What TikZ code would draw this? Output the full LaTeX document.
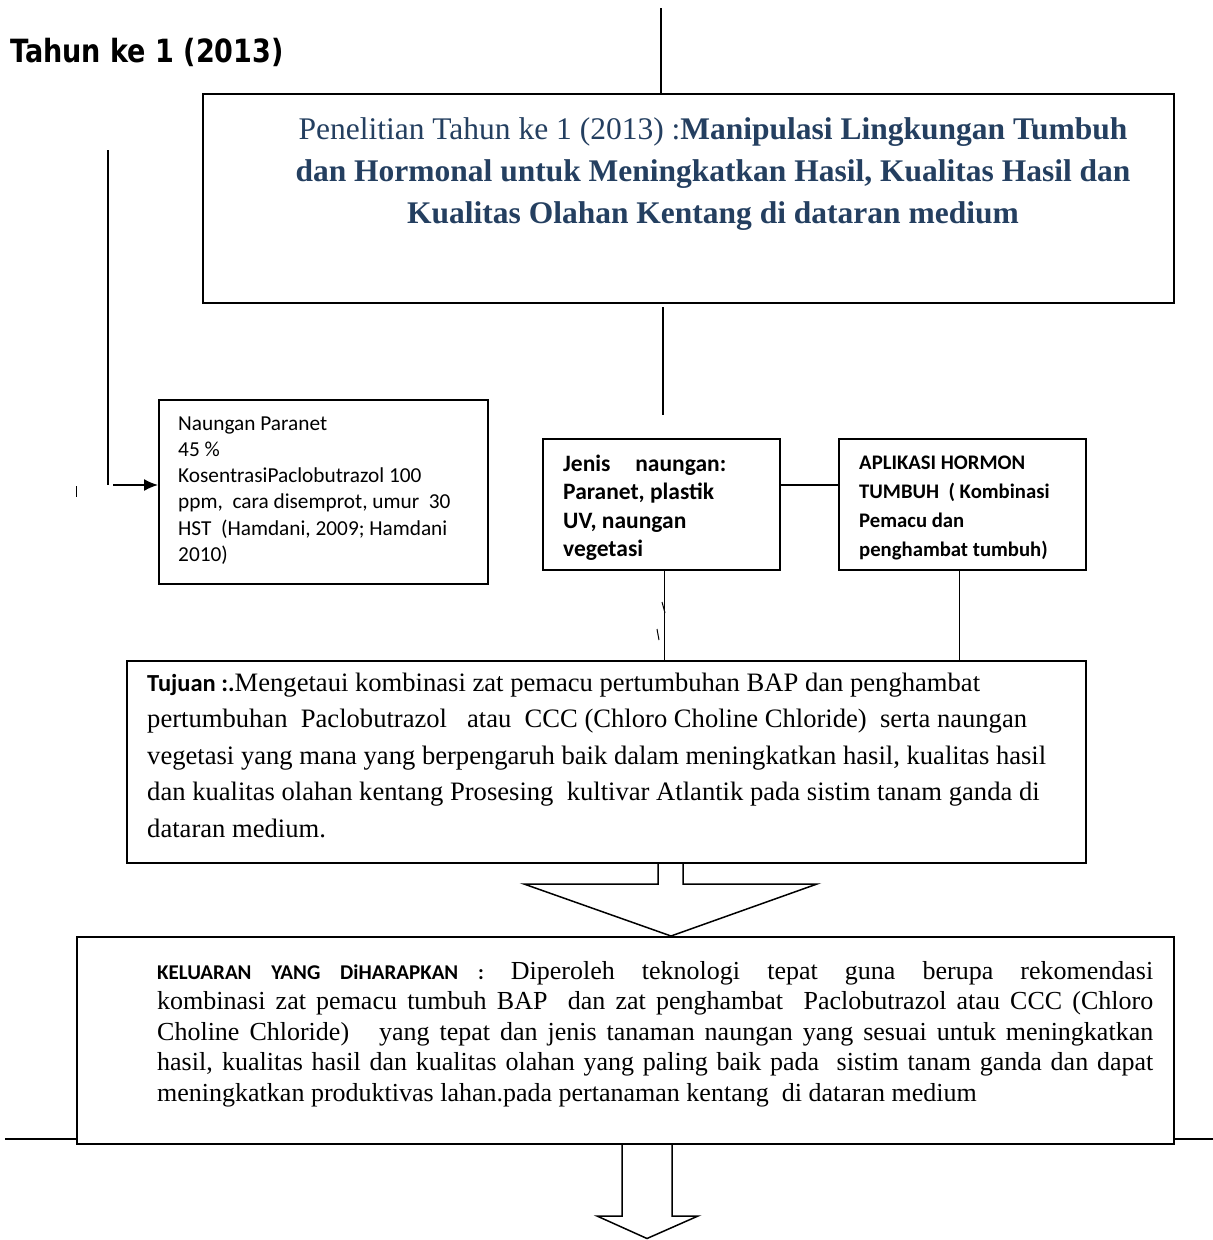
\documentclass[tikz,border=0pt]{standalone}
\usepackage{fontspec}
\usetikzlibrary{arrows.meta}
\setmainfont{Liberation Serif}
\newfontfamily\calfont{Carlito}
\newfontfamily\verdfont{DejaVu Sans}
\definecolor{titleblue}{HTML}{243F60}
\begin{document}
\begin{tikzpicture}[x=1pt,y=-1pt,
  box/.style={draw, line width=1.5pt, inner sep=0, anchor=north west},
  ln/.style={line width=1.5pt},
  thin/.style={line width=1pt},
  txt/.style={inner sep=0, anchor=north west, align=left}]
\useasboundingbox (0,0) rectangle (1213,1240);

% heading
\node[anchor=base west, inner sep=0, font=\verdfont\bfseries\fontsize{32}{36}\selectfont] (head) at (10,62) {\scalebox{0.845}[1]{Tahun ke 1 (2013)}};

% boxes
\node[box, minimum width=971, minimum height=209] (title) at (202,93) {};
\node[box, minimum width=329, minimum height=184] (naungan) at (158,399) {};
\node[box, minimum width=237, minimum height=131] (jenis) at (542,438) {};
\node[box, minimum width=247, minimum height=131] (aplikasi) at (838,438) {};
\node[box, minimum width=959, minimum height=202] (tujuan) at (126,660) {};
\node[box, minimum width=1097, minimum height=207] (keluaran) at (76,936) {};

% title text
\node[inner sep=0, anchor=north, align=center, text=titleblue,
      font=\fontsize{31.5}{42}\selectfont] (titletext) at (713,109.6)
 {\strut Penelitian Tahun ke 1 (2013) :\textbf{Manipulasi Lingkungan Tumbuh}\\
  \textbf{dan Hormonal untuk Meningkatkan Hasil, Kualitas Hasil dan}\\
  \textbf{Kualitas Olahan Kentang di dataran medium}};

% naungan text
\node[txt, font=\calfont\fontsize{21.3}{26.2}\selectfont] (naungantext) at (178,411.7)
 {\strut Naungan Paranet\\
  45~\%\\
  KosentrasiPaclobutrazol 100\\
  ppm,~ cara disemprot, umur~ 30\\
  HST~ (Hamdani, 2009; Hamdani\\
  2010)};

% jenis text (clipped)
\begin{scope}
\clip (544,440) rectangle (777,562);
\node[txt, font=\calfont\bfseries\fontsize{23.5}{28.5}\selectfont] (jenistext) at (563,451)
 {\strut\makebox[163pt][s]{Jenis naungan:}\\
  Paranet, plastik\\
  UV, naungan\\
  vegetasi};
\end{scope}

% aplikasi text (clipped)
\begin{scope}
\clip (840,440) rectangle (1083,562);
\node[txt, font=\calfont\bfseries\fontsize{20.7}{29}\selectfont] (aplikasitext) at (859,448.7)
 {\strut APLIKASI HORMON\\
  TUMBUH~ ( Kombinasi\\
  Pemacu dan\\
  penghambat tumbuh)};
\end{scope}

% tujuan text
\node[txt, font=\fontsize{26.6}{36.5}\selectfont] (tujuantext) at (147,665.4)
 {\strut{\calfont\bfseries\fontsize{24.5}{36.5}\selectfont Tujuan :.}Mengetaui kombinasi zat pemacu pertumbuhan BAP dan penghambat\\
  pertumbuhan~ Paclobutrazol~~ atau~ CCC (Chloro Choline Chloride)~ serta naungan\\
  vegetasi yang mana yang berpengaruh baik dalam meningkatkan hasil, kualitas hasil\\
  dan kualitas olahan kentang Prosesing~ kultivar Atlantik pada sistim tanam ganda di\\
  dataran medium.};

% keluaran text
\node[txt, font=\fontsize{26}{30.5}\selectfont] (keluarantext) at (157,957.65)
 {\strut\makebox[996pt][s]{{\calfont\bfseries\fontsize{21}{30.5}\selectfont KELUARAN YANG DiHARAPKAN :} Diperoleh teknologi tepat guna berupa rekomendasi}\\
  \makebox[996pt][s]{kombinasi zat pemacu tumbuh BAP~ dan zat penghambat~ Paclobutrazol atau CCC (Chloro}\\
  \makebox[996pt][s]{Choline Chloride)~~ yang tepat dan jenis tanaman naungan yang sesuai untuk meningkatkan}\\
  \makebox[996pt][s]{hasil, kualitas hasil dan kualitas olahan yang paling baik pada~ sistim tanam ganda dan dapat}\\
  meningkatkan produktivas lahan.pada pertanaman kentang~ di dataran medium};

% connectors
\coordinate (topend) at (661,8);
\draw[ln] (topend) -- (topend |- title.north);

\coordinate (midtop) at (663,307);
\coordinate (midbot) at (663,415);
\draw[ln] (midtop) -- (midbot);

\coordinate (leftend) at (108,150);
\coordinate (leftcorner) at (108,485);
\coordinate (arrowstart) at (113,485);
\draw[ln] (leftend) -- (leftcorner);
\draw[ln, -{Latex[length=14pt,width=12pt]}] (arrowstart) -- (naungan.west |- arrowstart);
\coordinate (tickA) at (76,486);
\coordinate (tickB) at (76,497);
\draw[thin] (tickA) -- (tickB);

\draw[ln] (jenis.east |- arrowstart) -- (aplikasi.west |- arrowstart);
\draw[ln] ([xshift=3pt]jenis.south) -- ([xshift=3pt]jenis.south |- tujuan.north);
\draw[ln] ([xshift=-3pt]aplikasi.south) -- ([xshift=-3pt]aplikasi.south |- tujuan.north);

% stray marks
\coordinate (s1a) at (662,602); \coordinate (s1b) at (665,613);
\coordinate (s2a) at (657,629); \coordinate (s2b) at (659,640);
\draw[thin] (s1a) -- (s1b);
\draw[thin] (s2a) -- (s2b);

% horizontal line behind keluaran
\coordinate (hl) at (5,1139);
\coordinate (hr) at (1213,1139);
\draw[ln] (hl) -- (keluaran.west |- hl);
\draw[ln] (keluaran.east |- hr) -- (hr);

% block arrow 1
\draw[ln, line join=miter] (658,862) -- (658,884) -- (524,884) -- (671,936) -- (817,884) -- (683,884) -- (683,862);
% block arrow 2
\draw[ln, line join=miter] (622,1143) -- (622,1216) -- (597,1216) -- (647,1238.5) -- (698,1216) -- (672,1216) -- (672,1143);
\end{tikzpicture}
\end{document}
